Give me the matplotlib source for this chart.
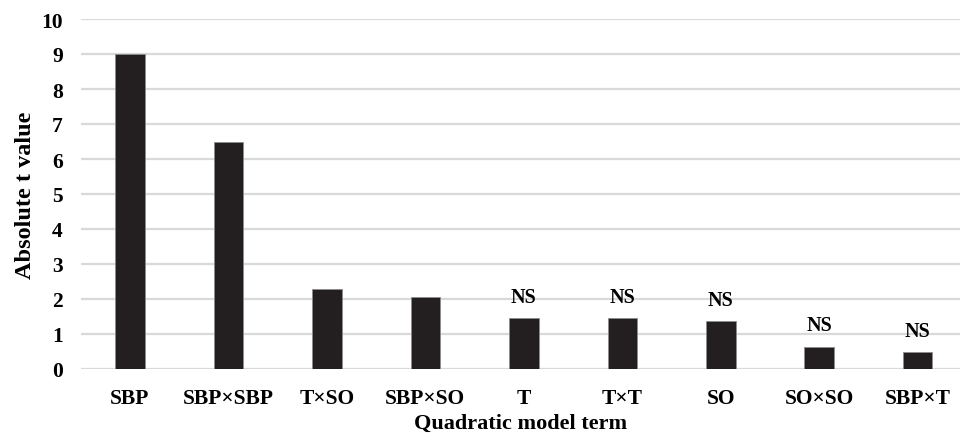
import matplotlib.pyplot as plt

terms = ['SBP', 'SBP×SBP', 'T×SO', 'SBP×SO', 'T', 'T×T', 'SO', 'SO×SO', 'SBP×T']
t_values = [9.0, 6.5, 2.29, 2.07, 1.45, 1.45, 1.36, 0.64, 0.48]
significance = ['', '', '', '', 'NS', 'NS', 'NS', 'NS', 'NS']
y_ticks = list(range(0, 11))

plt.rcParams['font.family'] = ['Liberation Serif', 'DejaVu Serif']
plt.rcParams['font.weight'] = 'bold'

fig = plt.figure(figsize=(9.6, 4.39), dpi=100)
ax = fig.add_axes([80.75 / 960, 69 / 439, 879.25 / 960, 350 / 439])

x = list(range(len(terms)))
ax.bar(x, t_values, width=0.3, color='#231f20', edgecolor='#8c8c8c', linewidth=0.6, zorder=3)

for xi, v, s in zip(x, t_values, significance):
    if s:
        ax.annotate(s, (xi, v), xytext=(0, 8), textcoords='offset points',
                    ha='center', va='bottom', fontsize=14.5, fontweight='bold')

ax.set_xlim(-0.5, 8.43)
ax.set_ylim(0, 10)
ax.set_yticks(y_ticks)
ax.set_xticks(x)
ax.set_xticklabels(terms)
ax.tick_params(axis='both', length=0, labelsize=15.5)
ax.tick_params(axis='y', pad=13)
ax.tick_params(axis='x', pad=14)
ax.grid(axis='y', color='#d9d9d9', linewidth=1.6, zorder=0)
for side in ['top', 'right', 'left', 'bottom']:
    ax.spines[side].set_visible(False)

ax.set_ylabel('Absolute t value', fontsize=17.5, fontweight='bold', labelpad=4)
ax.set_xlabel('Quadratic model term', fontsize=16, fontweight='bold', labelpad=3)

fig.savefig('out.png', dpi=100)
